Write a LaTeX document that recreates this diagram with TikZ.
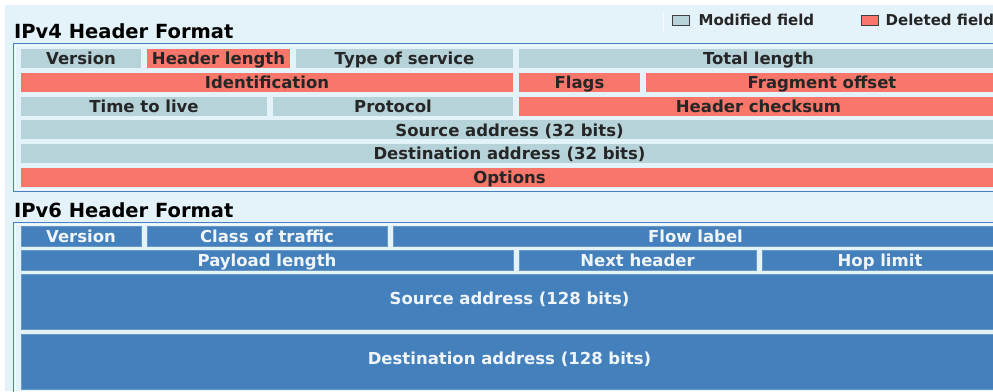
\documentclass[tikz,border=0pt]{standalone}
\usepackage{fontspec}
\setmainfont{DejaVu Sans}
\usetikzlibrary{positioning}
\definecolor{bgblue}{HTML}{E4F3F9}
\definecolor{modcol}{HTML}{B7D3DA}
\definecolor{delcol}{HTML}{F9766A}
\definecolor{vsixcol}{HTML}{4480BB}
\definecolor{framecol}{HTML}{4A80C4}
\tikzset{
  field/.style={rectangle, inner sep=0pt, minimum height=19pt,
    text height=12.2pt, text depth=0pt,
    font=\fontsize{16.5}{18}\selectfont\bfseries},
  modfield/.style={field, fill=modcol, text=black!85},
  delfield/.style={field, fill=delcol, text=black!85},
  vsixfield/.style={field, fill=vsixcol, draw=vsixcol!80!white, line width=0.6pt,
    text=white!92!vsixcol, minimum height=20pt},
  addrfield/.style={vsixfield, minimum width=977pt, minimum height=55pt,
    text depth=6pt},
  hdrtitle/.style={anchor=base west, inner sep=0pt,
    font=\fontsize{19.5}{22}\selectfont\bfseries},
  legendbox/.style={draw=black!75, line width=1pt, inner sep=0pt,
    minimum width=17pt, minimum height=10pt},
  legendtext/.style={anchor=west, inner sep=0pt, text=black!85,
    text height=10.5pt, text depth=0pt,
    font=\fontsize{15}{17}\selectfont\bfseries},
}

\begin{document}
\begin{tikzpicture}[x=1pt,y=-1pt]

  \useasboundingbox (0,0) rectangle (993,391);
  \fill[bgblue] (5,5) rectangle (993,391);

  % Legend
  \draw[white!60!bgblue, line width=1pt] (663,12) -- (663,33);
  \node[legendbox, fill=modcol] (modkey) at (680.5,20.5) {};
  \node[legendtext, right=9pt of modkey] (modtxt) {Modified field};
  \node[legendbox, fill=delcol] (delkey) at (869.5,20.5) {};
  \node[legendtext, right=7pt of delkey] (deltxt) {Deleted field};

  % IPv4
  \node[hdrtitle] (v4title) at (14,38) {IPv4 Header Format};
  \draw[framecol, line width=1.5pt] (13.5,43.5) rectangle (1006,191.5);
  \draw[white!60!bgblue, line width=0.8pt] (15.5,45.5) rectangle (1004,189.5);

  \node[modfield, minimum width=120pt] (v4ver)   at (81,58.5)    {Version};
  \node[delfield, minimum width=143pt] (v4hlen)  at (218.5,58.5) {Header length};
  \node[modfield, minimum width=217pt] (v4tos)   at (404.5,58.5) {Type of service};
  \node[modfield, minimum width=479pt] (v4tlen)  at (758.5,58.5) {Total length};

  \node[delfield, minimum width=492pt] (v4id)    at (267,82.3)   {Identification};
  \node[delfield, minimum width=121pt] (v4flags) at (579.5,82.3) {Flags};
  \node[delfield, minimum width=352pt] (v4frag)  at (822,82.3)   {Fragment offset};

  \node[modfield, minimum width=246pt] (v4ttl)   at (144,106.1)  {Time to live};
  \node[modfield, minimum width=240pt] (v4proto) at (393,106.1)  {Protocol};
  \node[delfield, minimum width=479pt] (v4csum)  at (758.5,106.1) {Header checksum};

  \node[modfield, minimum width=977pt] (v4src)   at (509.5,129.9) {Source address (32 bits)};
  \node[modfield, minimum width=977pt] (v4dst)   at (509.5,153.7) {Destination address (32 bits)};
  \node[delfield, minimum width=977pt] (v4opt)   at (509.5,177.5) {Options};

  % IPv6
  \node[hdrtitle] (v6title) at (14,217.5) {IPv6 Header Format};
  \draw[framecol, line width=1.5pt] (13.5,222.5) rectangle (1006,400);
  \draw[white!60!bgblue, line width=0.8pt] (15.5,224.5) rectangle (1004,398);

  \node[vsixfield, minimum width=120pt] (v6ver)   at (81,236.5)    {Version};
  \node[vsixfield, minimum width=240pt] (v6class) at (267,236.5)   {Class of traffic};
  \node[vsixfield, minimum width=605pt] (v6flow)  at (695.5,236.5) {Flow label};

  \node[vsixfield, minimum width=492pt] (v6plen)  at (267,260)     {Payload length};
  \node[vsixfield, minimum width=237pt] (v6next)  at (637.5,260)   {Next header};
  \node[vsixfield, minimum width=236pt] (v6hop)   at (880,260)     {Hop limit};

  \node[addrfield] (v6src) at (509.5,301.5) {Source address (128 bits)};
  \node[addrfield] (v6dst) at (509.5,361.5) {Destination address (128 bits)};

\end{tikzpicture}
\end{document}
